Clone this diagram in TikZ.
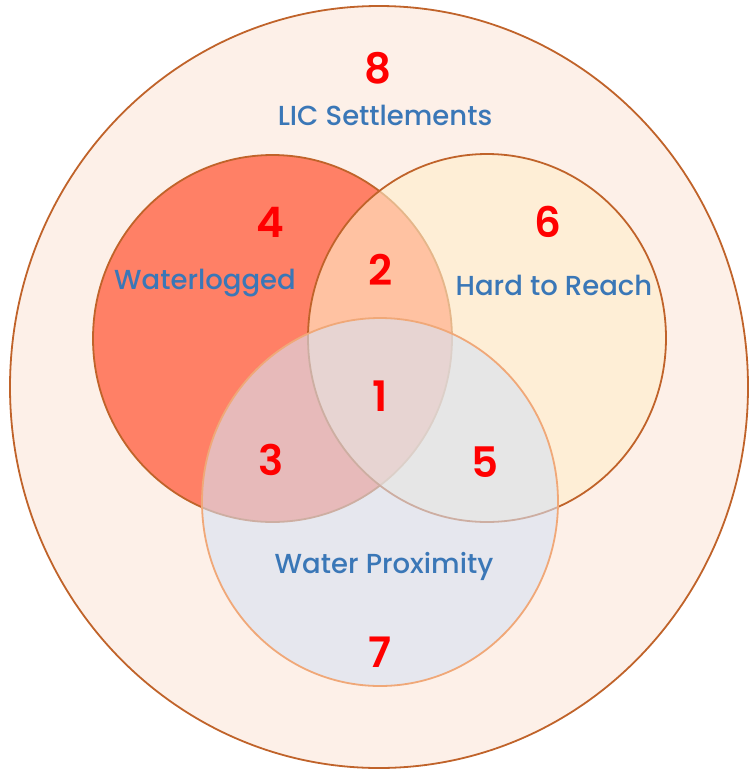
\documentclass[tikz,border=0pt]{standalone}
\usepackage{fontspec}
\setmainfont{Poppins}
\newfontfamily\setfont{Poppins}[UprightFont={* Medium}]
\newfontfamily\numfont{Poppins}[UprightFont={* SemiBold}]
\definecolor{rimline}{HTML}{C0632A}
\definecolor{proxline}{HTML}{F0A878}
\definecolor{licfill}{HTML}{FDF0E8}
\definecolor{wetfill}{HTML}{FF8066}
\definecolor{reachfill}{HTML}{FFEECB}
\definecolor{proxfill}{HTML}{D7E1F2}
\definecolor{numred}{HTML}{FF0000}
\definecolor{labelblue}{HTML}{3A77B7}
\tikzset{
  num/.style={text=numred, font=\numfont\fontsize{42}{42}\selectfont, inner sep=0pt},
  setlabel/.style={text=labelblue, font=\setfont\fontsize{27.5}{27.5}\selectfont, inner sep=0pt}
}
\begin{document}
\begin{tikzpicture}[x=1pt,y=-1pt]
\useasboundingbox (0,0) rectangle (748,772);
% the sets
\filldraw[draw=rimline, fill=licfill, line width=1.8pt] (379,387) ellipse [x radius=369, y radius=381];
\filldraw[draw=rimline, fill=wetfill, line width=1.8pt] (272.5,338.5) ellipse [x radius=179.5, y radius=183.5];
\filldraw[draw=rimline, fill=reachfill, fill opacity=0.6, line width=1.8pt] (487,338) ellipse [x radius=179, y radius=184];
\filldraw[draw=proxline, fill=proxfill, fill opacity=0.6, line width=1.8pt] (380,502) ellipse [x radius=178, y radius=184];
% labels
\node[setlabel] (lic) at (385,115) {LIC Settlements};
\node[setlabel] (wet) at (205,283) {Waterlogged};
\node[setlabel] (reach) at (554,285) {Hard to Reach};
\node[setlabel] (prox) at (384,566) {Water Proximity};
% region numbers
\node[num] (r1) at (380,396) {1};
\node[num] (r2) at (381,270) {2};
\node[num] (r3) at (271,460) {3};
\node[num] (r4) at (270,222) {4};
\node[num] (r5) at (485,462) {5};
\node[num] (r6) at (548,222) {6};
\node[num] (r7) at (380,652) {7};
\node[num] (r8) at (378,68) {8};
\end{tikzpicture}
\end{document}
